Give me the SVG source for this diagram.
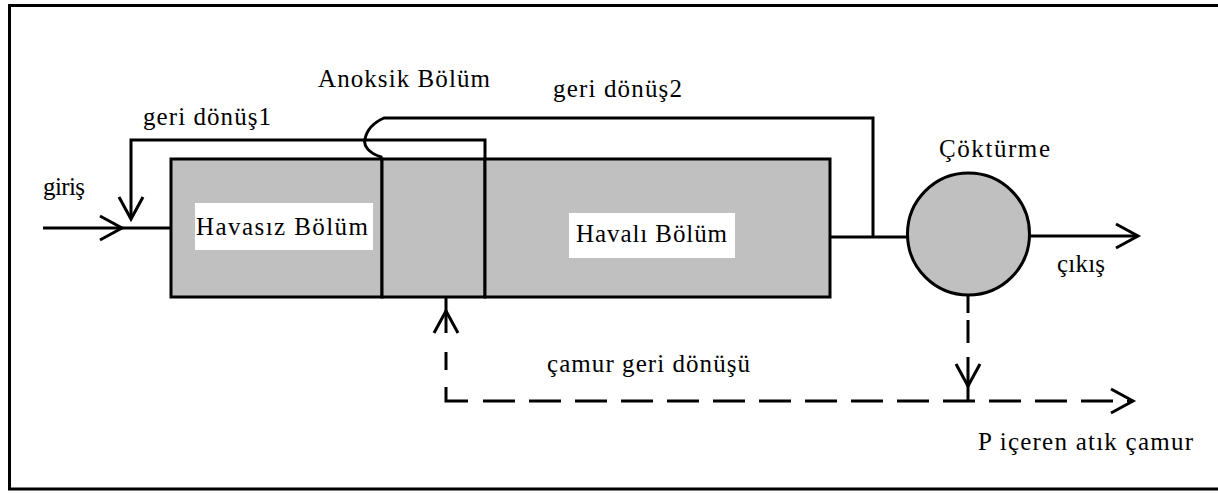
<svg xmlns="http://www.w3.org/2000/svg" width="1218" height="493" viewBox="0 0 1218 493">
<style>
.frame{fill:none;stroke:#000;stroke-width:3}
.tank{fill:#c0c0c0;stroke:#000;stroke-width:3}
.lbl{font-family:"Liberation Serif","DejaVu Serif","Times New Roman",serif;font-size:25px;fill:#000}
.box{fill:#fff;stroke:none}
.ln{fill:none;stroke:#000;stroke-width:3}
.dash{fill:none;stroke:#000;stroke-width:3;stroke-dasharray:32 14}
</style>
<defs>
<marker id="arr" markerUnits="userSpaceOnUse" viewBox="-24 -14 26 28" refX="0" refY="0" markerWidth="26" markerHeight="28" orient="auto" overflow="visible">
<path d="M-22,-12 L0,0 L-22,12" fill="none" stroke="#000" stroke-width="3"/>
</marker>
</defs>
<path class="frame" d="M1218,5.5 L9.5,5.5 L9.5,489 L1218,489"/>
<g id="havasiz">
<rect class="tank" x="171" y="159" width="211" height="138"/>
<rect class="box" x="195" y="203" width="178" height="47"/>
<text class="lbl" x="196" y="235" textLength="172" lengthAdjust="spacing">Havasız Bölüm</text>
</g>
<g id="anoksik">
<rect class="tank" x="382" y="159" width="103" height="138"/>
<text class="lbl" x="318" y="87" textLength="172" lengthAdjust="spacing">Anoksik Bölüm</text>
</g>
<g id="havali">
<rect class="tank" x="485" y="159" width="345" height="138"/>
<rect class="box" x="569" y="213" width="166" height="45"/>
<text class="lbl" x="576" y="242" textLength="151" lengthAdjust="spacing">Havalı Bölüm</text>
</g>
<g id="cokturme">
<circle class="tank" cx="968.5" cy="234" r="61" stroke-width="2.5"/>
<text class="lbl" x="939" y="157" textLength="111" lengthAdjust="spacing">Çöktürme</text>
</g>
<g id="connectors">
<path class="ln" d="M43,228 L122,228" marker-end="url(#arr)"/>
<path class="ln" d="M122,228 L171,228"/>
<path class="ln" d="M485,159 L485,140 L131,140 L131,219" marker-end="url(#arr)"/>
<path class="ln" d="M381,159 L381,157 C369,153 363,146 365,139 C367,129 375,122 384,118 L873,118 L873,237"/>
<path class="ln" d="M830,237 L907,237"/>
<path class="ln" d="M1030,236 L1138,236" marker-end="url(#arr)"/>
<path class="ln" d="M968,294 L968,313"/>
<path class="ln" d="M968,320 L968,386" style="stroke-dasharray:23 14 29" marker-end="url(#arr)"/>
<path class="ln" d="M968,386 L968,401"/>
<path class="ln" d="M446,297 L446,311"/>
<path class="ln" d="M446,333 L446,311" marker-end="url(#arr)"/>
<path class="ln" d="M446,352 L446,370"/>
<path class="ln" d="M446,387 L446,401 L468,401"/>
<path class="dash" d="M483,401 L1133,401" marker-end="url(#arr)"/>
</g>
<g id="labels">
<text class="lbl" x="143" y="125" textLength="128" lengthAdjust="spacing">geri dönüş1</text>
<text class="lbl" x="43" y="195" textLength="42" lengthAdjust="spacing">giriş</text>
<text class="lbl" x="553" y="97" textLength="129" lengthAdjust="spacing">geri dönüş2</text>
<text class="lbl" x="1057" y="272" textLength="48" lengthAdjust="spacing">çıkış</text>
<text class="lbl" x="547" y="372" textLength="203" lengthAdjust="spacing">çamur geri dönüşü</text>
<text class="lbl" x="978" y="450" textLength="215" lengthAdjust="spacing">P içeren atık çamur</text>
</g>
</svg>
